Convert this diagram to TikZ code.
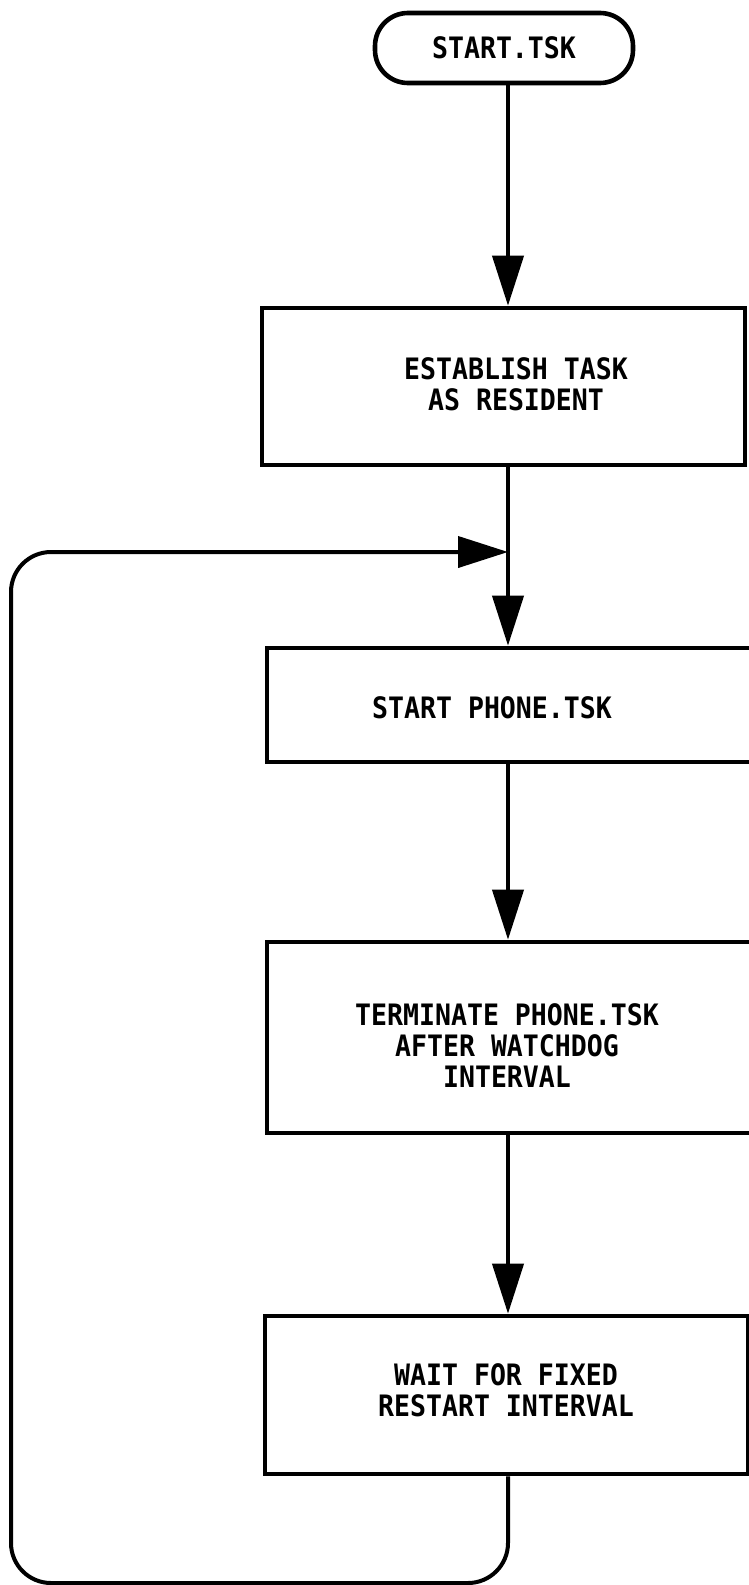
\documentclass[tikz,border=0pt]{standalone}
\usepackage{fontspec}
\setmonofont[FakeStretch=0.9]{DejaVu Sans Mono}
\usetikzlibrary{arrows.meta}
\begin{document}
\begin{tikzpicture}[x=1pt,y=-1pt,
  every node/.style={font=\fontsize{29.5}{31}\selectfont\ttfamily\bfseries},
  procbox/.style={draw, line width=4.6pt, rectangle, inner sep=0pt},
  termbox/.style={draw, line width=4.6pt, rounded corners=33pt, inner sep=0pt},
  boxtext/.style={align=center, inner sep=0pt},
  flow/.style={line width=4pt, -{Triangle[length=50pt,width=31pt]}},
]
\useasboundingbox (0,0) rectangle (749,1585);

% terminal and process boxes
\node[termbox, minimum width=258pt, minimum height=70pt] (term) at (504,48) {START.TSK};
\node[procbox, minimum width=483pt, minimum height=157pt] (b1) at (503.5,386.5) {};
\node[procbox, minimum width=503pt, minimum height=114pt] (b2) at (518.5,705) {};
\node[procbox, minimum width=503pt, minimum height=191pt] (b3) at (518.5,1037.5) {};
\node[procbox, minimum width=483pt, minimum height=158pt] (b4) at (506.5,1395) {};

% box texts
\node[boxtext] (t1) at (516,384) {ESTABLISH TASK\\AS RESIDENT};
\node[boxtext] (t2) at (492,708) {START PHONE.TSK};
\node[boxtext] (t3) at (507,1046) {TERMINATE PHONE.TSK\\AFTER WATCHDOG\\INTERVAL};
\node[boxtext] (t4) at (506,1390) {WAIT FOR FIXED\\RESTART INTERVAL};

% main column and loop points
\coordinate (col) at (508,0);
\coordinate (join) at (508,552);
\coordinate (lowleft) at (11,1583);

% connectors
\draw[flow] (term.south -| col) -- (b1.north -| col);
\draw[flow] (b1.south -| col) -- (b2.north -| col);
\draw[flow] (b2.south -| col) -- (b3.north -| col);
\draw[flow] (b3.south -| col) -- (b4.north -| col);

% return loop
\draw[flow, rounded corners=40pt] (b4.south -| col) |- (lowleft) |- (join);
\end{tikzpicture}
\end{document}
